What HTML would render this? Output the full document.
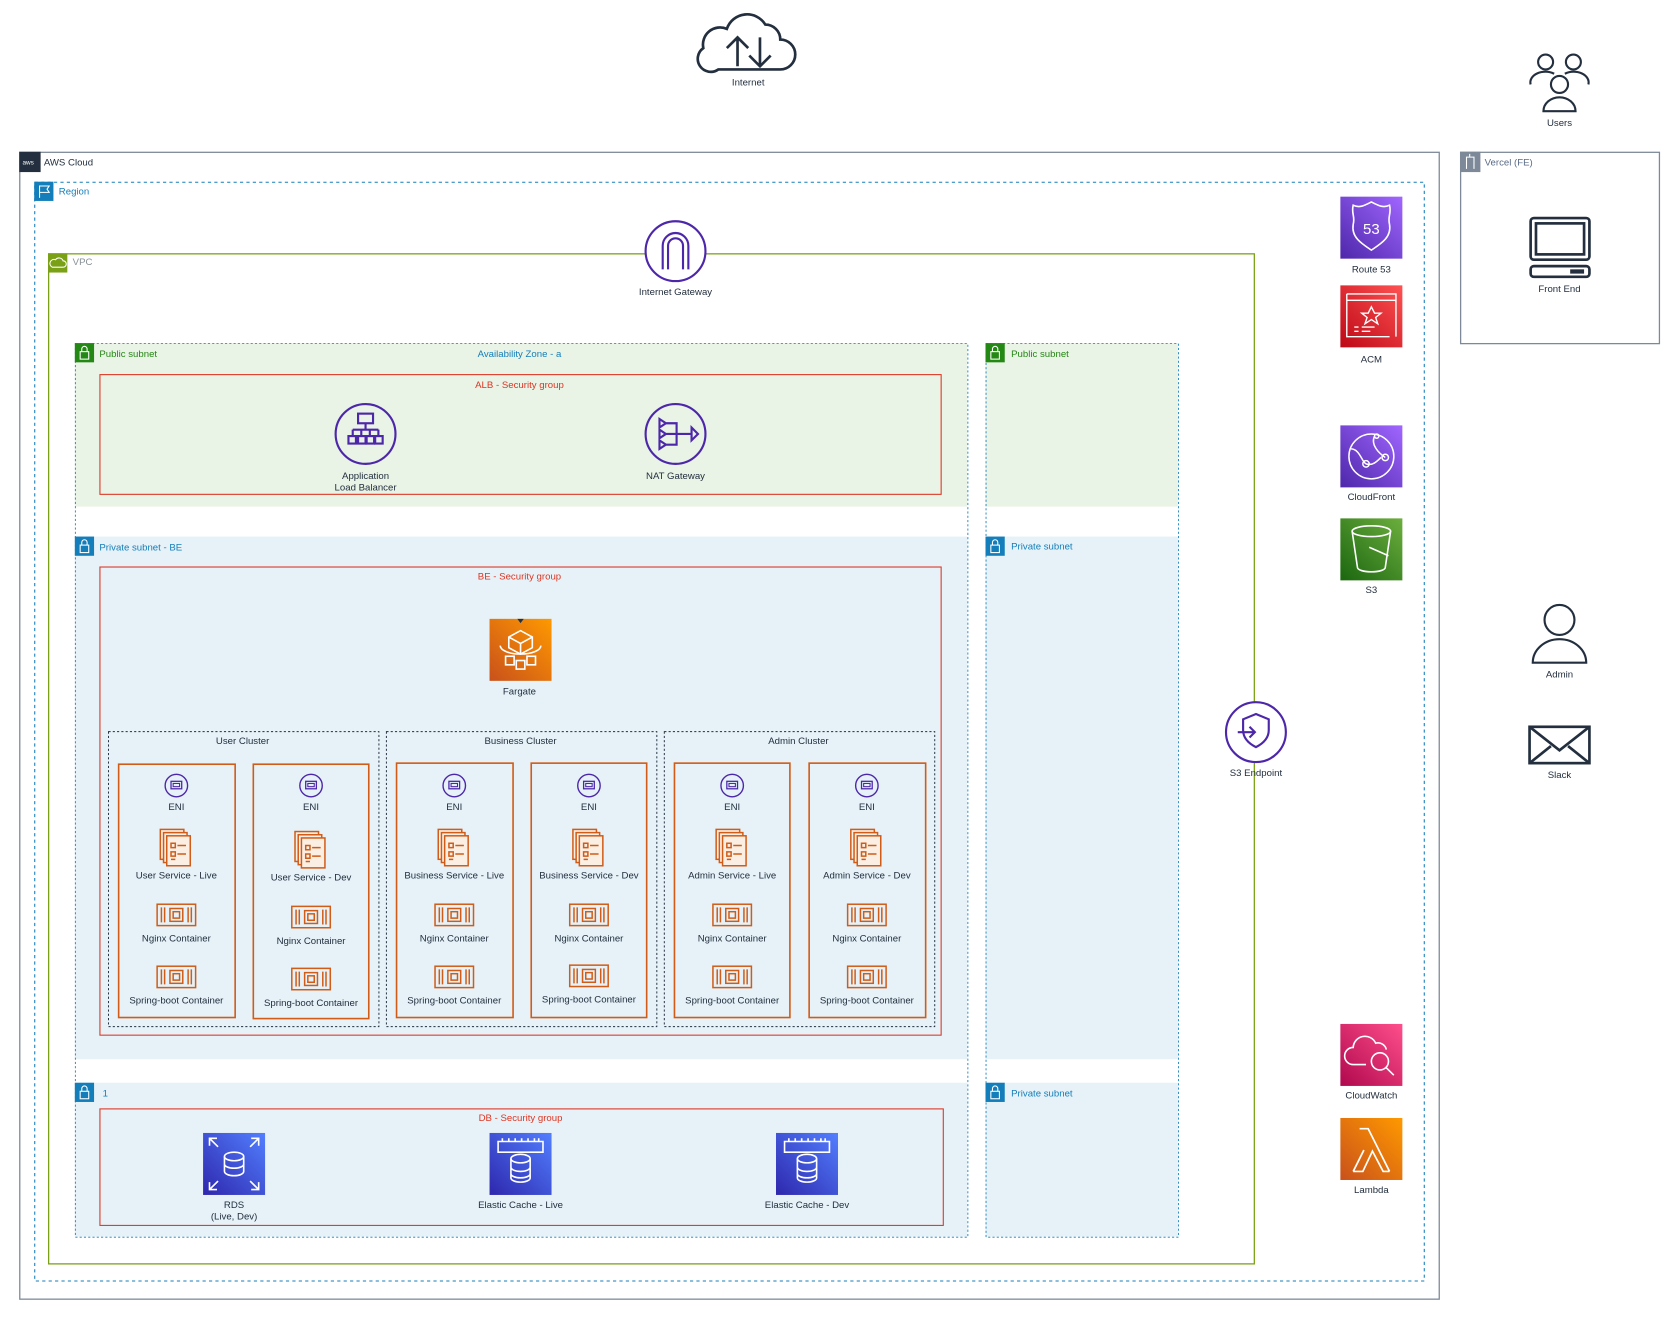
<!DOCTYPE html>
<html><head><meta charset="utf-8"><style>
html,body{margin:0;padding:0;background:#fff;width:1676px;height:1320px;overflow:hidden}
svg{display:block}
text{font-family:"Liberation Sans",Arial,sans-serif;font-size:9px;fill:#232F3E}
.c{text-anchor:middle}
</style></head><body>
<svg width="1676" height="1320" viewBox="0 0 1568 1235" preserveAspectRatio="none" xmlns="http://www.w3.org/2000/svg">
<defs>
<linearGradient id="gP" x1="0" y1="1" x2="1" y2="0"><stop offset="0" stop-color="#4D27AA"/><stop offset="1" stop-color="#A166FF"/></linearGradient>
<linearGradient id="gR" x1="0" y1="1" x2="1" y2="0"><stop offset="0" stop-color="#BD0816"/><stop offset="1" stop-color="#FF5252"/></linearGradient>
<linearGradient id="gG" x1="0" y1="1" x2="1" y2="0"><stop offset="0" stop-color="#1B660F"/><stop offset="1" stop-color="#6CAE3E"/></linearGradient>
<linearGradient id="gK" x1="0" y1="1" x2="1" y2="0"><stop offset="0" stop-color="#B0084D"/><stop offset="1" stop-color="#FF4F8B"/></linearGradient>
<linearGradient id="gO" x1="0" y1="1" x2="1" y2="0"><stop offset="0" stop-color="#C8511B"/><stop offset="1" stop-color="#FF9900"/></linearGradient>
<linearGradient id="gB" x1="0" y1="1" x2="1" y2="0"><stop offset="0" stop-color="#2E27AD"/><stop offset="1" stop-color="#527FFF"/></linearGradient>
<g id="eni"><circle r="10.5" fill="none" stroke="#4D27AA" stroke-width="1.3"/><rect x="-5" y="-4" width="10" height="7" fill="none" stroke="#4D27AA" stroke-width="1.2"/><rect x="-3" y="-2" width="6" height="3" fill="none" stroke="#4D27AA"/></g>
<g id="svc" fill="#fbeee2" stroke="#D05C17" stroke-width="1.4"><rect x="-15" y="-17" width="22" height="28"/><rect x="-12" y="-14" width="22" height="28"/><rect x="-9" y="-11" width="22" height="28"/><path d="M-5-4h4v4h-4zM-5 4h4v4h-4zM1-2h8M1 6h8M-5 11h4" fill="none"/></g>
<g id="ctr" fill="none" stroke="#D05C17" stroke-width="1.4"><rect x="-18" y="-10" width="36" height="20"/><path d="M-14-7v14M-11-7v14M14-7v14M11-7v14"/><rect x="-6" y="-6" width="12" height="12"/><rect x="-3" y="-3" width="6" height="6"/></g>
<g id="lock"><rect width="18" height="18"/><rect x="5" y="8" width="8" height="7" fill="none" stroke="#fff"/><path d="M6.5 8V5.5a2.5 2.5 0 0 1 5 0V8" fill="none" stroke="#fff"/></g>
</defs>

<!-- Internet -->
<path d="M672 65h58a14 14 0 0 0 0-28a14 14 0 0 0-14-14a20 20 0 0 0-36 4a16 16 0 0 0-22 18a10 10 0 0 0 14 20z" fill="none" stroke="#232F3E" stroke-width="2.5"/>
<path d="M690 62V35M680 45l10-10 10 10M711 35v27M701 52l10 10 10-10" fill="none" stroke="#232F3E" stroke-width="2.5"/>
<text x="700" y="80" class="c">Internet</text>
<!-- Users -->
<g fill="none" stroke="#232F3E" stroke-width="2"><circle cx="1446" cy="58" r="7"/><circle cx="1472" cy="58" r="7"/><path d="M1432 79a14 10 0 0 1 22-10M1486 79a14 10 0 0 0-22-10"/><circle cx="1459" cy="79" r="8"/><path d="M1444 104a15 13 0 0 1 30 0z"/></g>
<text x="1459" y="118" class="c">Users</text>

<!-- AWS Cloud -->
<rect x="18.5" y="142.5" width="1328" height="1073" fill="none" stroke="#7D8998" stroke-width="1.2"/>
<rect x="18" y="142" width="20" height="19" fill="#232F3E"/><text x="21" y="154" style="font-size:6px;fill:#fff">aws</text>
<text x="41" y="155">AWS Cloud</text>
<!-- Region -->
<rect x="32.5" y="170.5" width="1300" height="1028" fill="none" stroke="#147EBA" stroke-dasharray="3 3"/>
<rect x="32" y="170" width="18" height="18" fill="#147EBA"/><path d="M37 185V174h9l-2 3 2 3h-9" fill="none" stroke="#fff"/>
<text x="55" y="182" style="fill:#147EBA">Region</text>
<!-- VPC -->
<rect x="45.5" y="237.5" width="1128" height="945" fill="none" stroke="#7AA116" stroke-width="1.2"/>
<rect x="45" y="237" width="18" height="18" fill="#7AA116"/><path d="M49 250h10a3 3 0 0 0 0-6a4 4 0 0 0-7-1a3 3 0 0 0-3 7z" fill="none" stroke="#fff"/>
<text x="68" y="248" style="fill:#879196">VPC</text>

<!-- AZ-a fills -->
<rect x="70" y="321" width="835" height="153" fill="#E9F3E6"/>
<rect x="70" y="502" width="835" height="489" fill="#E6F2F8"/>
<rect x="70" y="1013" width="835" height="144" fill="#E6F2F8"/>
<rect x="70.5" y="321.5" width="835" height="836" fill="none" stroke="#147EBA" stroke-dasharray="2 2" stroke-width=".8"/>
<use href="#lock" x="70" y="321" fill="#248814"/>
<text x="93" y="334" style="fill:#248814">Public subnet</text>
<text x="486" y="334" class="c" style="fill:#147EBA">Availability Zone - a</text>
<use href="#lock" x="70" y="502" fill="#147EBA"/>
<text x="93" y="515" style="fill:#147EBA">Private subnet - BE</text>
<use href="#lock" x="70" y="1013" fill="#147EBA"/>
<text x="96" y="1026" style="fill:#147EBA">1</text>

<!-- right AZ -->
<rect x="922" y="321" width="180" height="153" fill="#E9F3E6"/>
<rect x="922" y="502" width="180" height="489" fill="#E6F2F8"/>
<rect x="922" y="1013" width="180" height="144" fill="#E6F2F8"/>
<rect x="922.5" y="321.5" width="180" height="836" fill="none" stroke="#147EBA" stroke-dasharray="2 2" stroke-width=".8"/>
<use href="#lock" x="922" y="321" fill="#248814"/>
<text x="946" y="334" style="fill:#248814">Public subnet</text>
<use href="#lock" x="922" y="502" fill="#147EBA"/>
<text x="946" y="514" style="fill:#147EBA">Private subnet</text>
<use href="#lock" x="922" y="1013" fill="#147EBA"/>
<text x="946" y="1026" style="fill:#147EBA">Private subnet</text>

<!-- Internet Gateway -->
<circle cx="632" cy="235" r="28" fill="#fff" stroke="#4D27AA" stroke-width="2"/>
<path d="M620 252v-22a12 12 0 0 1 24 0v22M625 252v-22a7 7 0 0 1 14 0v22" fill="none" stroke="#4D27AA" stroke-width="2"/>
<text x="632" y="276" class="c">Internet Gateway</text>

<!-- ALB SG -->
<rect x="93.5" y="350.5" width="787" height="112" fill="none" stroke="#DD3522"/>
<text x="486" y="363" class="c" style="fill:#DD3522">ALB - Security group</text>
<circle cx="342" cy="406" r="28" fill="none" stroke="#4D27AA" stroke-width="2"/>
<g fill="none" stroke="#4D27AA" stroke-width="2"><rect x="335" y="387" width="14" height="9"/><path d="M342 396v6M330 402h24M330 402v6M338 402v6M346 402v6M354 402v6"/><rect x="326" y="408" width="7" height="7"/><rect x="335" y="408" width="7" height="7"/><rect x="343" y="408" width="7" height="7"/><rect x="351" y="408" width="7" height="7"/></g>
<text x="342" y="448" class="c">Application</text><text x="342" y="459" class="c">Load Balancer</text>
<circle cx="632" cy="406" r="28" fill="none" stroke="#4D27AA" stroke-width="2"/>
<g fill="none" stroke="#4D27AA" stroke-width="2"><path d="M617 392l6 4-6 4zM617 402l6 4-6 4zM617 412l6 4-6 4zM623 396h10v20h-10M623 406h24M647 400l6 6-6 6z"/></g>
<text x="632" y="448" class="c">NAT Gateway</text>

<!-- BE SG -->
<rect x="93.5" y="530.5" width="787" height="438" fill="none" stroke="#DD3522"/>
<text x="486" y="542" class="c" style="fill:#DD3522">BE - Security group</text>
<rect x="458" y="579" width="58" height="58" fill="url(#gO)"/>
<g fill="none" stroke="#fff" stroke-width="1.5"><path d="M476 596l11-6 11 6v10l-11 6-11-6zM476 596l11 6 11-6M487 602v10"/><path d="M468 604a19 8 0 0 0 38 0"/><rect x="473" y="614" width="8" height="8"/><rect x="483" y="618" width="8" height="8"/><rect x="493" y="614" width="8" height="8"/></g>
<path d="M484 579h6l-3 4z" fill="#232F3E"/>
<text x="486" y="650" class="c">Fargate</text>

<!-- clusters -->
<g fill="none" stroke="#232F3E" stroke-dasharray="2 2" stroke-width=".9">
<rect x="101.5" y="684.5" width="253" height="276"/><rect x="361.5" y="684.5" width="253" height="276"/><rect x="621.5" y="684.5" width="253" height="276"/></g>
<text x="227" y="696" class="c">User Cluster</text>
<text x="487" y="696" class="c">Business Cluster</text>
<text x="747" y="696" class="c">Admin Cluster</text>

<g fill="none" stroke="#D05C17" stroke-width="1.5">
<rect x="111" y="715" width="109" height="237"/><rect x="237" y="715" width="108" height="238"/>
<rect x="371" y="714" width="109" height="238"/><rect x="497" y="714" width="108" height="238"/>
<rect x="631" y="714" width="108" height="238"/><rect x="757" y="714" width="109" height="238"/></g>

<g id="col1">
<use href="#eni" x="165" y="735"/><text x="165" y="758" class="c">ENI</text>
<use href="#svc" x="165" y="793"/><text x="165" y="822" class="c">User Service - Live</text>
<use href="#ctr" x="165" y="856"/><text x="165" y="881" class="c">Nginx Container</text>
<use href="#ctr" x="165" y="914"/><text x="165" y="939" class="c">Spring-boot Container</text></g>
<use href="#eni" x="291" y="735"/><text x="291" y="758" class="c">ENI</text>
<use href="#svc" x="291" y="795"/><text x="291" y="824" class="c">User Service - Dev</text>
<use href="#ctr" x="291" y="858"/><text x="291" y="883" class="c">Nginx Container</text>
<use href="#ctr" x="291" y="916"/><text x="291" y="941" class="c">Spring-boot Container</text>

<use href="#eni" x="425" y="735"/><text x="425" y="758" class="c">ENI</text>
<use href="#svc" x="425" y="793"/><text x="425" y="822" class="c">Business Service - Live</text>
<use href="#ctr" x="425" y="856"/><text x="425" y="881" class="c">Nginx Container</text>
<use href="#ctr" x="425" y="914"/><text x="425" y="939" class="c">Spring-boot Container</text>
<use href="#eni" x="551" y="735"/><text x="551" y="758" class="c">ENI</text>
<use href="#svc" x="551" y="793"/><text x="551" y="822" class="c">Business Service - Dev</text>
<use href="#ctr" x="551" y="856"/><text x="551" y="881" class="c">Nginx Container</text>
<use href="#ctr" x="551" y="913"/><text x="551" y="938" class="c">Spring-boot Container</text>

<use href="#eni" x="685" y="735"/><text x="685" y="758" class="c">ENI</text>
<use href="#svc" x="685" y="793"/><text x="685" y="822" class="c">Admin Service - Live</text>
<use href="#ctr" x="685" y="856"/><text x="685" y="881" class="c">Nginx Container</text>
<use href="#ctr" x="685" y="914"/><text x="685" y="939" class="c">Spring-boot Container</text>
<use href="#eni" x="811" y="735"/><text x="811" y="758" class="c">ENI</text>
<use href="#svc" x="811" y="793"/><text x="811" y="822" class="c">Admin Service - Dev</text>
<use href="#ctr" x="811" y="856"/><text x="811" y="881" class="c">Nginx Container</text>
<use href="#ctr" x="811" y="914"/><text x="811" y="939" class="c">Spring-boot Container</text>

<!-- DB SG -->
<rect x="93.5" y="1037.5" width="789" height="109" fill="none" stroke="#DD3522"/>
<text x="487" y="1049" class="c" style="fill:#DD3522">DB - Security group</text>
<rect x="190" y="1060" width="58" height="58" fill="url(#gB)"/>
<g fill="none" stroke="#fff" stroke-width="1.5"><ellipse cx="219" cy="1082" rx="9" ry="4"/><path d="M210 1082v14a9 4 0 0 0 18 0v-14M210 1089a9 4 0 0 0 18 0M196 1072v-7h7M196 1065l8 8M242 1072v-7h-7M242 1065l-8 8M196 1106v7h7M196 1113l8-8M242 1106v7h-7M242 1113l-8-8"/></g>
<text x="219" y="1130" class="c">RDS</text><text x="219" y="1141" class="c">(Live, Dev)</text>
<g id="ec"><rect x="458" y="1060" width="58" height="58" fill="url(#gB)"/>
<g fill="none" stroke="#fff" stroke-width="1.5"><path d="M466 1068h42v10h-42zM470 1068v-3M476 1068v-3M482 1068v-3M488 1068v-3M494 1068v-3M500 1068v-3M504 1068v-3"/><ellipse cx="487" cy="1084" rx="9" ry="4"/><path d="M478 1084v18a9 4 0 0 0 18 0v-18M478 1092a9 4 0 0 0 18 0M478 1098a9 4 0 0 0 18 0"/></g></g>
<text x="487" y="1130" class="c">Elastic Cache - Live</text>
<use href="#ec" x="268"/>
<text x="755" y="1130" class="c">Elastic Cache - Dev</text>

<!-- S3 endpoint -->
<circle cx="1175" cy="685" r="28" fill="#fff" stroke="#4D27AA" stroke-width="2"/>
<path d="M1175 668l12 5v10c0 8-6 13-12 16c-6-3-12-8-12-16v-10zM1158 685h16M1169 680l5 5-5 5" fill="none" stroke="#4D27AA" stroke-width="2"/>
<text x="1175" y="726" class="c">S3 Endpoint</text>

<!-- Right services -->
<rect x="1254" y="184" width="58" height="58" fill="url(#gP)"/>
<path d="M1266 192c6 3 11 0 17-3c6 3 11 6 17 3c2 8-2 10 0 18c2 12-8 18-17 24c-9-6-19-12-17-24c2-8-2-10 0-18z" fill="none" stroke="#fff" stroke-width="1.5"/>
<text x="1283" y="219" class="c" style="fill:#fff;font-size:14px">53</text>
<text x="1283" y="255" class="c">Route 53</text>
<rect x="1254" y="267" width="58" height="58" fill="url(#gR)"/>
<g fill="none" stroke="#fff" stroke-width="1.3"><path d="M1260 275h46v40M1260 275v40h40M1260 281h46"/><path d="M1283 287l3 6h6l-5 4 2 6-6-4-6 4 2-6-5-4h6z"/><path d="M1267 306h4M1274 306h12M1267 310h4M1274 310h8"/></g>
<text x="1283" y="339" class="c">ACM</text>
<rect x="1254" y="398" width="58" height="58" fill="url(#gP)"/>
<g fill="none" stroke="#fff" stroke-width="1.4"><circle cx="1283" cy="427" r="21"/><path d="M1264 420c8 0 10 12 14 14M1286 408c-4 8 4 16 10 20M1278 434c6 2 10 -2 14-6"/><circle cx="1278" cy="434" r="3"/><circle cx="1296" cy="428" r="3"/><circle cx="1288" cy="408" r="2"/></g>
<text x="1283" y="468" class="c">CloudFront</text>
<rect x="1254" y="485" width="58" height="58" fill="url(#gG)"/>
<g fill="none" stroke="#fff" stroke-width="1.5"><ellipse cx="1283" cy="497" rx="18" ry="5"/><path d="M1265 497l5 34a13 4 0 0 0 26 0l5-34M1281 512l18 8"/></g>
<text x="1283" y="555" class="c">S3</text>
<rect x="1254" y="958" width="58" height="58" fill="url(#gK)"/>
<g fill="none" stroke="#fff" stroke-width="1.5"><path d="M1278 996h-12a8 8 0 0 1 0-16a11 11 0 0 1 21-4a8 8 0 0 1 10 6"/><circle cx="1291" cy="993" r="8"/><path d="M1297 999l7 7"/></g>
<text x="1283" y="1028" class="c">CloudWatch</text>
<rect x="1254" y="1046" width="58" height="58" fill="url(#gO)"/>
<path d="M1266 1096h9l9-19 10 19h6M1272 1056h8l20 40M1276 1076l-10 20" fill="none" stroke="#fff" stroke-width="1.6"/>
<text x="1283" y="1116" class="c">Lambda</text>

<!-- Vercel -->
<rect x="1366.5" y="142.5" width="186" height="179" fill="none" stroke="#7D8998" stroke-width="1.2"/>
<rect x="1366" y="142" width="19" height="19" fill="#7D8998"/><path d="M1372 158v-11h7v11M1375 147v-3" fill="none" stroke="#fff"/>
<text x="1389" y="155" style="fill:#5A6B86">Vercel (FE)</text>
<g fill="none" stroke="#232F3E" stroke-width="2.5"><rect x="1432" y="204" width="55" height="39" rx="3"/><rect x="1437" y="209" width="45" height="29"/><rect x="1432" y="249" width="55" height="10" rx="3"/></g>
<rect x="1469" y="252" width="13" height="4" fill="#232F3E"/>
<text x="1459" y="273" class="c">Front End</text>

<!-- Admin -->
<g fill="none" stroke="#232F3E" stroke-width="2"><circle cx="1459" cy="580" r="14"/><path d="M1434 620a25 22 0 0 1 50 0z"/></g>
<text x="1459" y="634" class="c">Admin</text>
<!-- Slack -->
<g fill="none" stroke="#232F3E" stroke-width="2.5"><rect x="1431" y="680" width="56" height="34"/><path d="M1431 680l28 22 28-22M1431 714l20-16M1487 714l-20-16"/></g>
<text x="1459" y="728" class="c">Slack</text>
</svg>
</body></html>
